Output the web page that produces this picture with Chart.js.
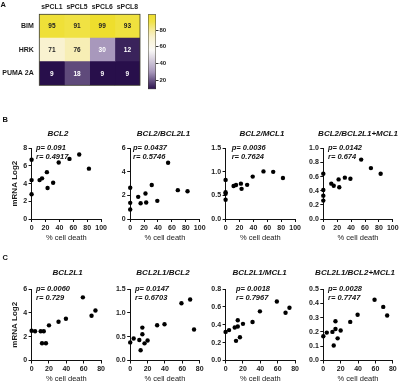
<!DOCTYPE html>
<html><head><meta charset="utf-8">
<script src="https://cdn.jsdelivr.net/npm/chart.js@4.4.1/dist/chart.umd.min.js"></script>
<style>
html,body{margin:0;padding:0;background:#fff;}
#wrap{position:relative;width:400px;height:382px;overflow:hidden;background:#fff;font-family:"Liberation Sans",Arial,sans-serif;color:#111;}
canvas{position:absolute;}
.t{position:absolute;white-space:nowrap;line-height:1;}
.c{transform:translate(-50%,-50%);}
.l{transform:translate(0,-50%);}
.ttl{font-weight:bold;font-style:italic;font-size:8px;}
.ann{font-weight:bold;font-style:italic;font-size:7.5px;}
.pl{font-weight:bold;font-size:7.5px;}
</style></head><body><div id="wrap"></div>
<script>
// ---------------- DATA ----------------
const heatRows = ['BIM', 'HRK', 'PUMA 2A'];
const heatCols = ['sPCL1', 'sPCL5', 'sPCL6', 'sPCL8'];
const bimValues = [95, 91, 99, 93];
const hrkValues = [71, 76, 30, 12];
const pumaValues = [9, 18, 9, 9];
const colorbarTicks = [20, 40, 60, 80];

const cellDeathB12 = [0, 0, 0, 11.5, 15, 22, 23, 31, 39, 54.5, 68.5, 82.5];
const cellDeathB13 = [0, 0, 0, 0, 11.5, 15, 22, 23, 31, 39, 54.5, 68.5, 82.5];
const bcl2 = [6.7, 4.4, 2.8, 4.4, 4.6, 5.3, 3.5, 4.1, 6.4, 6.8, 7.3, 5.7];
const bcl2_bcl2l1 = [2.65, 1.37, 0.8, 1.88, 1.34, 2.17, 1.40, 2.88, 1.54, 4.78, 2.45, 2.36];
const bcl2_mcl1 = [0.83, 0.57, 0.535, 0.41, 0.70, 0.72, 0.75, 0.64, 0.725, 0.90, 1.01, 1.0, 0.87];
const bcl2_bcl2l1mcl1 = [0.64, 0.41, 0.33, 0.26, 0.50, 0.47, 0.56, 0.45, 0.585, 0.57, 0.84, 0.72, 0.64];

const cellDeathC12 = [0, 4, 10.5, 12, 14, 16.5, 20, 31, 39.5, 59, 69, 73.5];
const cellDeathC13 = [0, 4, 10.5, 12, 14, 14, 16.5, 20, 31, 39.5, 59, 69, 73.5];
const bcl2l1 = [2.5, 2.45, 2.45, 1.45, 2.45, 1.45, 2.95, 3.25, 3.5, 5.3, 3.75, 4.2];
const bcl2l1_bcl2 = [0.38, 0.46, 0.43, 0.215, 0.69, 0.55, 0.36, 0.42, 0.74, 0.76, 1.20, 1.28, 0.65];
const bcl2l1_mcl1 = [0.32, 0.34, 0.37, 0.22, 0.45, 0.38, 0.26, 0.41, 0.43, 0.55, 0.66, 0.535, 0.59];
const bcl2l1_bcl2mcl1 = [0.17, 0.195, 0.20, 0.105, 0.275, 0.22, 0.155, 0.21, 0.27, 0.32, 0.425, 0.375, 0.315];

const titlesB = ['BCL2', 'BCL2/BCL2L1', 'BCL2/MCL1', 'BCL2/BCL2L1+MCL1'];
const pB = ['0.091', '0.0437', '0.0036', '0.0142'];
const rB = ['0.4917', '0.5746', '0.7624', '0.674'];
const yMaxB = [8, 6, 1.5, 1.0];
const yStepB = [2, 2, 0.5, 0.2];
const titlesC = ['BCL2L1', 'BCL2L1/BCL2', 'BCL2L1/MCL1', 'BCL2L1/BCL2+MCL1'];
const pC = ['0.0060', '0.0147', '0.0018', '0.0028'];
const rC = ['0.729', '0.6703', '0.7967', '0.7747'];
const yMaxC = [6, 1.5, 0.8, 0.5];
const yStepC = [2, 0.5, 0.2, 0.1];
const xMaxB = 100, xMaxC = 80, xStep = 20;
const xTitle = '% cell death';
const yTitle = 'mRNA Log2';

// ---------------- STYLE / LAYOUT ----------------
const FONT = '"Liberation Sans", Arial, sans-serif';
Chart.defaults.font.family = FONT;
Chart.defaults.color = '#1a1a1a';
const wrap = document.getElementById('wrap');

function addCanvas(left, top, w, h) {
  const c = document.createElement('canvas');
  c.width = w; c.height = h;
  c.style.left = left + 'px'; c.style.top = top + 'px';
  c.style.width = w + 'px'; c.style.height = h + 'px';
  wrap.appendChild(c);
  return c;
}
function addText(txt, x, y, cls) {
  const d = document.createElement('div');
  d.className = 't ' + cls;
  d.textContent = txt;
  d.style.left = x + 'px'; d.style.top = y + 'px';
  wrap.appendChild(d);
  return d;
}

// colormap (purple - white - yellow)
const cmapStops = [[0, [40, 15, 75]], [0.233, [168, 152, 188]], [0.52, [250, 249, 247]], [0.689, [249, 242, 208]], [0.767, [246, 236, 170]], [0.9, [240, 226, 70]], [1, [238, 222, 45]]];
const heatMatrix = [bimValues, hrkValues, pumaValues];
const allHeat = heatMatrix.flat();
const cMin = Math.min(...allHeat), cMax = Math.max(...allHeat);
function cmap(v) {
  const t = Math.max(0, Math.min(1, (v - cMin) / (cMax - cMin)));
  for (let i = 1; i < cmapStops.length; i++) {
    const [t1, c1] = cmapStops[i], [t0, c0] = cmapStops[i - 1];
    if (t <= t1) {
      const f = (t - t0) / (t1 - t0);
      return 'rgb(' + c0.map((a, k) => Math.round(a + (c1[k] - a) * f)).join(',') + ')';
    }
  }
  return 'rgb(' + cmapStops[cmapStops.length - 1][1].join(',') + ')';
}

// ---------------- HEATMAP ----------------
(function () {
  const cv = addCanvas(0, 0, 146, 95);
  const area = { L: 39.3, T: 14.3, R: 140, B: 89.3 };
  const cellText = {
    id: 'cellText',
    afterDatasetsDraw(chart) {
      const ctx = chart.ctx;
      ctx.save();
      ctx.font = 'bold 6.5px ' + FONT;
      ctx.textAlign = 'center'; ctx.textBaseline = 'middle';
      chart.data.datasets.forEach((ds, j) => {
        chart.getDatasetMeta(j).data.forEach((el, i) => {
          const v = heatMatrix[i][j];
          ctx.fillStyle = v < 40 ? '#ffffff' : '#222222';
          ctx.fillText(String(v), (el.x + el.base) / 2, el.y + 0.5);
        });
      });
      const a = chart.chartArea;
      ctx.strokeStyle = '#3a3a2a'; ctx.lineWidth = 0.8;
      ctx.strokeRect(a.left, a.top, a.right - a.left, a.bottom - a.top);
      ctx.restore();
    }
  };
  new Chart(cv, {
    type: 'bar',
    data: {
      labels: heatRows,
      datasets: heatCols.map((col, j) => ({
        label: col,
        data: heatRows.map(() => 1),
        backgroundColor: heatMatrix.map(row => cmap(row[j])),
        borderWidth: 0,
        barPercentage: 1, categoryPercentage: 1
      }))
    },
    options: {
      indexAxis: 'y', responsive: false, animation: false, devicePixelRatio: 1,
      layout: { padding: { left: 0, top: 0, right: 146 - area.R, bottom: 95 - area.B } },
      plugins: { legend: { display: false }, tooltip: { enabled: false } },
      scales: {
        x: {
          type: 'linear', position: 'top', stacked: true, min: 0, max: heatCols.length,
          afterBuildTicks: s => { s.ticks = heatCols.map((c, j) => ({ value: j + 0.5 })); },
          afterFit: s => { s.height = area.T; },
          ticks: { callback: (v, i) => heatCols[i], autoSkip: false, maxRotation: 0, padding: 3.5, font: { size: 6.8, weight: 'bold' }, color: '#1a1a1a' },
          grid: { display: false, drawTicks: false }, border: { display: false }
        },
        y: {
          type: 'category', stacked: true,
          afterFit: s => { s.width = area.L; },
          ticks: { padding: 5.5, font: { size: 7, weight: 'bold' }, color: '#1a1a1a' },
          grid: { display: false, drawTicks: false }, border: { display: false }
        }
      }
    },
    plugins: [cellText]
  });
})();

// ---------------- COLORBAR ----------------
(function () {
  const cv = addCanvas(140, 0, 40, 95);
  new Chart(cv, {
    type: 'bar',
    data: {
      labels: [''],
      datasets: [{
        data: [[cMin, cMax]],
        backgroundColor: (c) => {
          const ch = c.chart, ys = ch.scales.y;
          if (!ch.chartArea || !ys) return '#ffffff';
          const y0 = ys.getPixelForValue(cMin), y1 = ys.getPixelForValue(cMax);
          const g = ch.ctx.createLinearGradient(0, y0, 0, y1);
          for (let i = 0; i <= 40; i++) { const v = cMin + (cMax - cMin) * i / 40; g.addColorStop(i / 40, cmap(v)); }
          return g;
        },
        borderColor: '#3a3a2a', borderWidth: 0.8, borderSkipped: false,
        barPercentage: 1, categoryPercentage: 1
      }]
    },
    options: {
      responsive: false, animation: false, devicePixelRatio: 1,
      layout: { padding: { left: 8, top: 14.3, right: 0, bottom: 95 - 89.3 } },
      plugins: { legend: { display: false }, tooltip: { enabled: false } },
      scales: {
        x: { display: false },
        y: {
          position: 'right', min: cMin, max: cMax,
          afterBuildTicks: s => { s.ticks = colorbarTicks.map(v => ({ value: v })); },
          afterFit: s => { s.width = 24; },
          ticks: { padding: 1, font: { size: 6, weight: 'bold' }, color: '#1a1a1a' },
          grid: { display: true, drawOnChartArea: false, drawTicks: true, tickLength: 2.5, color: '#333' },
          border: { display: false }
        }
      }
    }
  });
})();

// ---------------- SCATTERS ----------------
const colL = [31.6, 130.2, 225.6, 323.3];
const plotW = 69.5;
function scatter(L, T, B, xs, ys, xMax, yMax, yStep, withYTitle) {
  const R = L + plotW;
  const cl = Math.max(0, Math.floor(L - 32));
  const ct = Math.floor(T - 8);
  const w = Math.ceil(R + 10 - cl);
  const xh = 23;
  const h = Math.ceil(B + xh - ct);
  const yw = L - cl;
  const cv = addCanvas(cl, ct, w, h);
  const dec = yStep < 1 ? 1 : 0;
  new Chart(cv, {
    type: 'scatter',
    data: { datasets: [{ data: xs.map((x, i) => ({ x: x, y: ys[i] })), pointRadius: 2.2, pointHoverRadius: 2.2, backgroundColor: '#000', borderWidth: 0, clip: false }] },
    options: {
      responsive: false, animation: false, devicePixelRatio: 1,
      layout: { padding: { left: 0, top: T - ct, right: w - (R - cl), bottom: h - (B + xh - ct) } },
      plugins: { legend: { display: false }, tooltip: { enabled: false } },
      scales: {
        x: {
          type: 'linear', min: 0, max: xMax,
          afterFit: s => { s.height = xh; },
          ticks: { stepSize: xStep, autoSkip: false, padding: 1.5, maxRotation: 0, font: { size: 7, weight: 'bold' }, color: '#1a1a1a' },
          grid: { display: true, drawOnChartArea: false, drawTicks: true, tickLength: 3, color: '#111', lineWidth: 1 },
          border: { display: true, color: '#111', width: 1 },
          title: { display: true, text: xTitle, padding: 0, font: { size: 7.5 }, color: '#1a1a1a' }
        },
        y: {
          type: 'linear', min: 0, max: yMax,
          afterFit: s => { s.width = yw; },
          ticks: { stepSize: yStep, autoSkip: false, padding: 1.5, font: { size: 7, weight: 'bold' }, color: '#1a1a1a', callback: v => Number(v).toFixed(dec) },
          grid: { display: true, drawOnChartArea: false, drawTicks: true, tickLength: 3, color: '#111', lineWidth: 1 },
          border: { display: true, color: '#111', width: 1 },
          title: { display: withYTitle, text: yTitle, padding: { top: 10.2, bottom: 0 }, font: { size: 8, weight: 'bold' }, color: '#1a1a1a' }
        }
      }
    }
  });
}

const rowB = { T: 148.3, B: 219 };
const rowC = { T: 289, B: 360.5 };
const seriesB = [[cellDeathB12, bcl2], [cellDeathB12, bcl2_bcl2l1], [cellDeathB13, bcl2_mcl1], [cellDeathB13, bcl2_bcl2l1mcl1]];
const seriesC = [[cellDeathC12, bcl2l1], [cellDeathC13, bcl2l1_bcl2], [cellDeathC13, bcl2l1_mcl1], [cellDeathC13, bcl2l1_bcl2mcl1]];
seriesB.forEach((s, i) => scatter(colL[i], rowB.T, rowB.B, s[0], s[1], xMaxB, yMaxB[i], yStepB[i], i === 0));
seriesC.forEach((s, i) => scatter(colL[i], rowC.T, rowC.B, s[0], s[1], xMaxC, yMaxC[i], yStepC[i], i === 0));

// ---------------- TEXT ----------------
addText('A', 0.5, 4.5, 'pl l');
addText('B', 2.5, 119.5, 'pl l');
addText('C', 2.5, 257.5, 'pl l');
const titleXB = [58, 163.5, 262, 358];
const titleXC = [67.5, 163, 259.5, 355];
const annXB = [36, 133, 231.7, 328];
const annXC = [36, 135, 236, 328];
titlesB.forEach((t, i) => {
  addText(t, titleXB[i], 134.3, 'ttl c');
  addText('p= ' + pB[i], annXB[i], 147.7, 'ann l');
  addText('r= ' + rB[i], annXB[i], 156.5, 'ann l');
});
titlesC.forEach((t, i) => {
  addText(t, titleXC[i], 273.3, 'ttl c');
  addText('p= ' + pC[i], annXC[i], 289, 'ann l');
  addText('r= ' + rC[i], annXC[i], 297.5, 'ann l');
});
</script>
</body></html>
